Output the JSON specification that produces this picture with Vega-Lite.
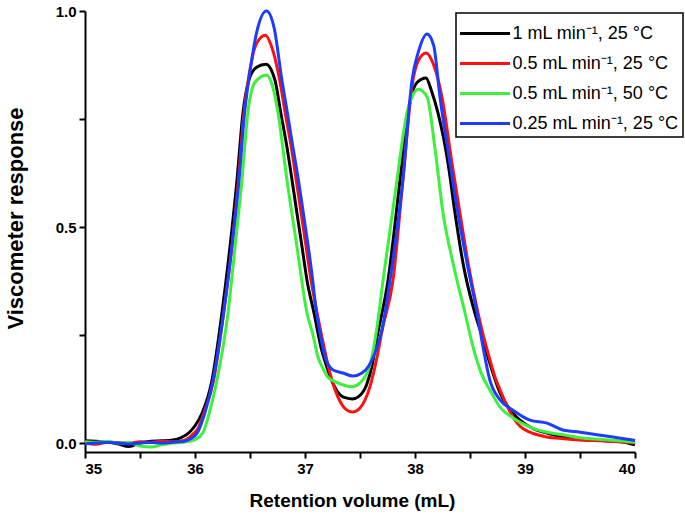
{
  "$schema": "https://vega.github.io/schema/vega-lite/v6.json",
  "width": 550,
  "height": 441,
  "autosize": {"type": "none"},
  "padding": {"left": 85, "top": 11, "right": 50, "bottom": 69},
  "background": "white",
  "config": {
    "view": {"stroke": null},
    "font": "Liberation Sans",
    "axis": {
      "grid": false,
      "domainColor": "black",
      "domainWidth": 2,
      "tickColor": "black",
      "tickWidth": 2,
      "tickSize": 6,
      "labelFont": "Liberation Sans",
      "labelFontSize": 15,
      "labelFontWeight": "bold",
      "labelColor": "black",
      "titleFont": "Liberation Sans",
      "titleFontWeight": "bold",
      "titleColor": "black"
    },
    "legend": {
      "labelFont": "Liberation Sans"
    }
  },
  "data": {
    "values": [
      {"s": "1 mL min⁻¹, 25 °C", "x": 35.0, "y": 0.005},
      {"s": "1 mL min⁻¹, 25 °C", "x": 35.1, "y": 0.004},
      {"s": "1 mL min⁻¹, 25 °C", "x": 35.2, "y": 0.003},
      {"s": "1 mL min⁻¹, 25 °C", "x": 35.3, "y": -0.002},
      {"s": "1 mL min⁻¹, 25 °C", "x": 35.4, "y": -0.008},
      {"s": "1 mL min⁻¹, 25 °C", "x": 35.5, "y": 0.0},
      {"s": "1 mL min⁻¹, 25 °C", "x": 35.6, "y": 0.004},
      {"s": "1 mL min⁻¹, 25 °C", "x": 35.7, "y": 0.005},
      {"s": "1 mL min⁻¹, 25 °C", "x": 35.8, "y": 0.007},
      {"s": "1 mL min⁻¹, 25 °C", "x": 35.87, "y": 0.012},
      {"s": "1 mL min⁻¹, 25 °C", "x": 35.95, "y": 0.025},
      {"s": "1 mL min⁻¹, 25 °C", "x": 36.0, "y": 0.04},
      {"s": "1 mL min⁻¹, 25 °C", "x": 36.064, "y": 0.069},
      {"s": "1 mL min⁻¹, 25 °C", "x": 36.155, "y": 0.146},
      {"s": "1 mL min⁻¹, 25 °C", "x": 36.245, "y": 0.301},
      {"s": "1 mL min⁻¹, 25 °C", "x": 36.318, "y": 0.454},
      {"s": "1 mL min⁻¹, 25 °C", "x": 36.382, "y": 0.609},
      {"s": "1 mL min⁻¹, 25 °C", "x": 36.436, "y": 0.764},
      {"s": "1 mL min⁻¹, 25 °C", "x": 36.49, "y": 0.84},
      {"s": "1 mL min⁻¹, 25 °C", "x": 36.56, "y": 0.87},
      {"s": "1 mL min⁻¹, 25 °C", "x": 36.645, "y": 0.877},
      {"s": "1 mL min⁻¹, 25 °C", "x": 36.727, "y": 0.84},
      {"s": "1 mL min⁻¹, 25 °C", "x": 36.78, "y": 0.764},
      {"s": "1 mL min⁻¹, 25 °C", "x": 36.836, "y": 0.685},
      {"s": "1 mL min⁻¹, 25 °C", "x": 36.882, "y": 0.609},
      {"s": "1 mL min⁻¹, 25 °C", "x": 36.927, "y": 0.532},
      {"s": "1 mL min⁻¹, 25 °C", "x": 36.973, "y": 0.454},
      {"s": "1 mL min⁻¹, 25 °C", "x": 37.018, "y": 0.377},
      {"s": "1 mL min⁻¹, 25 °C", "x": 37.082, "y": 0.301},
      {"s": "1 mL min⁻¹, 25 °C", "x": 37.145, "y": 0.222},
      {"s": "1 mL min⁻¹, 25 °C", "x": 37.2, "y": 0.175},
      {"s": "1 mL min⁻¹, 25 °C", "x": 37.27, "y": 0.13},
      {"s": "1 mL min⁻¹, 25 °C", "x": 37.35, "y": 0.106},
      {"s": "1 mL min⁻¹, 25 °C", "x": 37.43, "y": 0.102},
      {"s": "1 mL min⁻¹, 25 °C", "x": 37.49, "y": 0.108},
      {"s": "1 mL min⁻¹, 25 °C", "x": 37.56, "y": 0.135},
      {"s": "1 mL min⁻¹, 25 °C", "x": 37.61, "y": 0.18},
      {"s": "1 mL min⁻¹, 25 °C", "x": 37.65, "y": 0.238},
      {"s": "1 mL min⁻¹, 25 °C", "x": 37.755, "y": 0.377},
      {"s": "1 mL min⁻¹, 25 °C", "x": 37.864, "y": 0.609},
      {"s": "1 mL min⁻¹, 25 °C", "x": 37.936, "y": 0.764},
      {"s": "1 mL min⁻¹, 25 °C", "x": 38.02, "y": 0.835},
      {"s": "1 mL min⁻¹, 25 °C", "x": 38.1, "y": 0.845},
      {"s": "1 mL min⁻¹, 25 °C", "x": 38.15, "y": 0.815},
      {"s": "1 mL min⁻¹, 25 °C", "x": 38.209, "y": 0.764},
      {"s": "1 mL min⁻¹, 25 °C", "x": 38.3, "y": 0.648},
      {"s": "1 mL min⁻¹, 25 °C", "x": 38.364, "y": 0.532},
      {"s": "1 mL min⁻¹, 25 °C", "x": 38.436, "y": 0.417},
      {"s": "1 mL min⁻¹, 25 °C", "x": 38.545, "y": 0.3},
      {"s": "1 mL min⁻¹, 25 °C", "x": 38.6, "y": 0.255},
      {"s": "1 mL min⁻¹, 25 °C", "x": 38.68, "y": 0.185},
      {"s": "1 mL min⁻¹, 25 °C", "x": 38.773, "y": 0.116},
      {"s": "1 mL min⁻¹, 25 °C", "x": 38.891, "y": 0.069},
      {"s": "1 mL min⁻¹, 25 °C", "x": 39.045, "y": 0.037},
      {"s": "1 mL min⁻¹, 25 °C", "x": 39.2, "y": 0.023},
      {"s": "1 mL min⁻¹, 25 °C", "x": 39.345, "y": 0.014},
      {"s": "1 mL min⁻¹, 25 °C", "x": 39.5, "y": 0.01},
      {"s": "1 mL min⁻¹, 25 °C", "x": 39.655, "y": 0.007},
      {"s": "1 mL min⁻¹, 25 °C", "x": 39.8, "y": 0.004},
      {"s": "1 mL min⁻¹, 25 °C", "x": 39.9, "y": 0.002},
      {"s": "1 mL min⁻¹, 25 °C", "x": 40.0, "y": -0.004},

      {"s": "0.5 mL min⁻¹, 25 °C", "x": 35.0, "y": 0.0},
      {"s": "0.5 mL min⁻¹, 25 °C", "x": 35.1, "y": -0.003},
      {"s": "0.5 mL min⁻¹, 25 °C", "x": 35.2, "y": 0.002},
      {"s": "0.5 mL min⁻¹, 25 °C", "x": 35.3, "y": 0.001},
      {"s": "0.5 mL min⁻¹, 25 °C", "x": 35.4, "y": 0.0},
      {"s": "0.5 mL min⁻¹, 25 °C", "x": 35.5, "y": 0.003},
      {"s": "0.5 mL min⁻¹, 25 °C", "x": 35.6, "y": 0.002},
      {"s": "0.5 mL min⁻¹, 25 °C", "x": 35.7, "y": 0.004},
      {"s": "0.5 mL min⁻¹, 25 °C", "x": 35.8, "y": 0.003},
      {"s": "0.5 mL min⁻¹, 25 °C", "x": 35.9, "y": 0.006},
      {"s": "0.5 mL min⁻¹, 25 °C", "x": 35.97, "y": 0.018},
      {"s": "0.5 mL min⁻¹, 25 °C", "x": 36.03, "y": 0.035},
      {"s": "0.5 mL min⁻¹, 25 °C", "x": 36.08, "y": 0.069},
      {"s": "0.5 mL min⁻¹, 25 °C", "x": 36.17, "y": 0.146},
      {"s": "0.5 mL min⁻¹, 25 °C", "x": 36.26, "y": 0.301},
      {"s": "0.5 mL min⁻¹, 25 °C", "x": 36.335, "y": 0.454},
      {"s": "0.5 mL min⁻¹, 25 °C", "x": 36.395, "y": 0.609},
      {"s": "0.5 mL min⁻¹, 25 °C", "x": 36.445, "y": 0.764},
      {"s": "0.5 mL min⁻¹, 25 °C", "x": 36.49, "y": 0.85},
      {"s": "0.5 mL min⁻¹, 25 °C", "x": 36.56, "y": 0.925},
      {"s": "0.5 mL min⁻¹, 25 °C", "x": 36.64, "y": 0.944},
      {"s": "0.5 mL min⁻¹, 25 °C", "x": 36.7, "y": 0.915},
      {"s": "0.5 mL min⁻¹, 25 °C", "x": 36.77, "y": 0.84},
      {"s": "0.5 mL min⁻¹, 25 °C", "x": 36.82, "y": 0.764},
      {"s": "0.5 mL min⁻¹, 25 °C", "x": 36.875, "y": 0.685},
      {"s": "0.5 mL min⁻¹, 25 °C", "x": 36.92, "y": 0.609},
      {"s": "0.5 mL min⁻¹, 25 °C", "x": 36.965, "y": 0.532},
      {"s": "0.5 mL min⁻¹, 25 °C", "x": 37.01, "y": 0.454},
      {"s": "0.5 mL min⁻¹, 25 °C", "x": 37.055, "y": 0.377},
      {"s": "0.5 mL min⁻¹, 25 °C", "x": 37.11, "y": 0.301},
      {"s": "0.5 mL min⁻¹, 25 °C", "x": 37.15, "y": 0.25},
      {"s": "0.5 mL min⁻¹, 25 °C", "x": 37.227, "y": 0.162},
      {"s": "0.5 mL min⁻¹, 25 °C", "x": 37.3, "y": 0.106},
      {"s": "0.5 mL min⁻¹, 25 °C", "x": 37.382, "y": 0.076},
      {"s": "0.5 mL min⁻¹, 25 °C", "x": 37.436, "y": 0.072},
      {"s": "0.5 mL min⁻¹, 25 °C", "x": 37.5, "y": 0.081},
      {"s": "0.5 mL min⁻¹, 25 °C", "x": 37.59, "y": 0.13},
      {"s": "0.5 mL min⁻¹, 25 °C", "x": 37.655, "y": 0.199},
      {"s": "0.5 mL min⁻¹, 25 °C", "x": 37.7, "y": 0.26},
      {"s": "0.5 mL min⁻¹, 25 °C", "x": 37.8, "y": 0.377},
      {"s": "0.5 mL min⁻¹, 25 °C", "x": 37.89, "y": 0.609},
      {"s": "0.5 mL min⁻¹, 25 °C", "x": 37.975, "y": 0.83},
      {"s": "0.5 mL min⁻¹, 25 °C", "x": 38.03, "y": 0.885},
      {"s": "0.5 mL min⁻¹, 25 °C", "x": 38.1, "y": 0.903},
      {"s": "0.5 mL min⁻¹, 25 °C", "x": 38.17, "y": 0.875},
      {"s": "0.5 mL min⁻¹, 25 °C", "x": 38.245, "y": 0.801},
      {"s": "0.5 mL min⁻¹, 25 °C", "x": 38.336, "y": 0.648},
      {"s": "0.5 mL min⁻¹, 25 °C", "x": 38.409, "y": 0.532},
      {"s": "0.5 mL min⁻¹, 25 °C", "x": 38.482, "y": 0.417},
      {"s": "0.5 mL min⁻¹, 25 °C", "x": 38.573, "y": 0.301},
      {"s": "0.5 mL min⁻¹, 25 °C", "x": 38.62, "y": 0.25},
      {"s": "0.5 mL min⁻¹, 25 °C", "x": 38.682, "y": 0.192},
      {"s": "0.5 mL min⁻¹, 25 °C", "x": 38.727, "y": 0.153},
      {"s": "0.5 mL min⁻¹, 25 °C", "x": 38.773, "y": 0.123},
      {"s": "0.5 mL min⁻¹, 25 °C", "x": 38.891, "y": 0.06},
      {"s": "0.5 mL min⁻¹, 25 °C", "x": 38.95, "y": 0.04},
      {"s": "0.5 mL min⁻¹, 25 °C", "x": 39.045, "y": 0.025},
      {"s": "0.5 mL min⁻¹, 25 °C", "x": 39.2, "y": 0.014},
      {"s": "0.5 mL min⁻¹, 25 °C", "x": 39.35, "y": 0.01},
      {"s": "0.5 mL min⁻¹, 25 °C", "x": 39.5, "y": 0.007},
      {"s": "0.5 mL min⁻¹, 25 °C", "x": 39.7, "y": 0.005},
      {"s": "0.5 mL min⁻¹, 25 °C", "x": 39.85, "y": 0.003},
      {"s": "0.5 mL min⁻¹, 25 °C", "x": 40.0, "y": 0.0},

      {"s": "0.5 mL min⁻¹, 50 °C", "x": 35.0, "y": 0.003},
      {"s": "0.5 mL min⁻¹, 50 °C", "x": 35.1, "y": 0.002},
      {"s": "0.5 mL min⁻¹, 50 °C", "x": 35.2, "y": 0.004},
      {"s": "0.5 mL min⁻¹, 50 °C", "x": 35.3, "y": 0.0},
      {"s": "0.5 mL min⁻¹, 50 °C", "x": 35.4, "y": 0.001},
      {"s": "0.5 mL min⁻¹, 50 °C", "x": 35.5, "y": -0.007},
      {"s": "0.5 mL min⁻¹, 50 °C", "x": 35.6, "y": -0.009},
      {"s": "0.5 mL min⁻¹, 50 °C", "x": 35.7, "y": -0.004},
      {"s": "0.5 mL min⁻¹, 50 °C", "x": 35.8, "y": 0.0},
      {"s": "0.5 mL min⁻¹, 50 °C", "x": 35.9, "y": 0.002},
      {"s": "0.5 mL min⁻¹, 50 °C", "x": 36.0, "y": 0.008},
      {"s": "0.5 mL min⁻¹, 50 °C", "x": 36.07, "y": 0.023},
      {"s": "0.5 mL min⁻¹, 50 °C", "x": 36.13, "y": 0.07},
      {"s": "0.5 mL min⁻¹, 50 °C", "x": 36.2, "y": 0.146},
      {"s": "0.5 mL min⁻¹, 50 °C", "x": 36.3, "y": 0.301},
      {"s": "0.5 mL min⁻¹, 50 °C", "x": 36.364, "y": 0.454},
      {"s": "0.5 mL min⁻¹, 50 °C", "x": 36.427, "y": 0.609},
      {"s": "0.5 mL min⁻¹, 50 °C", "x": 36.48, "y": 0.764},
      {"s": "0.5 mL min⁻¹, 50 °C", "x": 36.545, "y": 0.835},
      {"s": "0.5 mL min⁻¹, 50 °C", "x": 36.65, "y": 0.852},
      {"s": "0.5 mL min⁻¹, 50 °C", "x": 36.7, "y": 0.83},
      {"s": "0.5 mL min⁻¹, 50 °C", "x": 36.755, "y": 0.764},
      {"s": "0.5 mL min⁻¹, 50 °C", "x": 36.836, "y": 0.609},
      {"s": "0.5 mL min⁻¹, 50 °C", "x": 36.927, "y": 0.454},
      {"s": "0.5 mL min⁻¹, 50 °C", "x": 37.018, "y": 0.301},
      {"s": "0.5 mL min⁻¹, 50 °C", "x": 37.073, "y": 0.25},
      {"s": "0.5 mL min⁻¹, 50 °C", "x": 37.118, "y": 0.199},
      {"s": "0.5 mL min⁻¹, 50 °C", "x": 37.164, "y": 0.172},
      {"s": "0.5 mL min⁻¹, 50 °C", "x": 37.2, "y": 0.155},
      {"s": "0.5 mL min⁻¹, 50 °C", "x": 37.273, "y": 0.142},
      {"s": "0.5 mL min⁻¹, 50 °C", "x": 37.382, "y": 0.132},
      {"s": "0.5 mL min⁻¹, 50 °C", "x": 37.427, "y": 0.13},
      {"s": "0.5 mL min⁻¹, 50 °C", "x": 37.5, "y": 0.139},
      {"s": "0.5 mL min⁻¹, 50 °C", "x": 37.55, "y": 0.155},
      {"s": "0.5 mL min⁻¹, 50 °C", "x": 37.59, "y": 0.18},
      {"s": "0.5 mL min⁻¹, 50 °C", "x": 37.65, "y": 0.26},
      {"s": "0.5 mL min⁻¹, 50 °C", "x": 37.71, "y": 0.377},
      {"s": "0.5 mL min⁻¹, 50 °C", "x": 37.836, "y": 0.609},
      {"s": "0.5 mL min⁻¹, 50 °C", "x": 37.927, "y": 0.764},
      {"s": "0.5 mL min⁻¹, 50 °C", "x": 37.98, "y": 0.805},
      {"s": "0.5 mL min⁻¹, 50 °C", "x": 38.03, "y": 0.819},
      {"s": "0.5 mL min⁻¹, 50 °C", "x": 38.11, "y": 0.801},
      {"s": "0.5 mL min⁻¹, 50 °C", "x": 38.18, "y": 0.685},
      {"s": "0.5 mL min⁻¹, 50 °C", "x": 38.255, "y": 0.532},
      {"s": "0.5 mL min⁻¹, 50 °C", "x": 38.345, "y": 0.417},
      {"s": "0.5 mL min⁻¹, 50 °C", "x": 38.455, "y": 0.301},
      {"s": "0.5 mL min⁻¹, 50 °C", "x": 38.53, "y": 0.22},
      {"s": "0.5 mL min⁻¹, 50 °C", "x": 38.6, "y": 0.163},
      {"s": "0.5 mL min⁻¹, 50 °C", "x": 38.68, "y": 0.123},
      {"s": "0.5 mL min⁻¹, 50 °C", "x": 38.773, "y": 0.083},
      {"s": "0.5 mL min⁻¹, 50 °C", "x": 38.891, "y": 0.058},
      {"s": "0.5 mL min⁻¹, 50 °C", "x": 39.045, "y": 0.037},
      {"s": "0.5 mL min⁻¹, 50 °C", "x": 39.2, "y": 0.025},
      {"s": "0.5 mL min⁻¹, 50 °C", "x": 39.345, "y": 0.019},
      {"s": "0.5 mL min⁻¹, 50 °C", "x": 39.5, "y": 0.012},
      {"s": "0.5 mL min⁻¹, 50 °C", "x": 39.7, "y": 0.008},
      {"s": "0.5 mL min⁻¹, 50 °C", "x": 39.85, "y": 0.005},
      {"s": "0.5 mL min⁻¹, 50 °C", "x": 40.0, "y": 0.002},

      {"s": "0.25 mL min⁻¹, 25 °C", "x": 35.0, "y": -0.002},
      {"s": "0.25 mL min⁻¹, 25 °C", "x": 35.1, "y": 0.0},
      {"s": "0.25 mL min⁻¹, 25 °C", "x": 35.2, "y": 0.001},
      {"s": "0.25 mL min⁻¹, 25 °C", "x": 35.3, "y": 0.0},
      {"s": "0.25 mL min⁻¹, 25 °C", "x": 35.4, "y": -0.002},
      {"s": "0.25 mL min⁻¹, 25 °C", "x": 35.5, "y": 0.0},
      {"s": "0.25 mL min⁻¹, 25 °C", "x": 35.6, "y": 0.001},
      {"s": "0.25 mL min⁻¹, 25 °C", "x": 35.7, "y": 0.0},
      {"s": "0.25 mL min⁻¹, 25 °C", "x": 35.8, "y": 0.002},
      {"s": "0.25 mL min⁻¹, 25 °C", "x": 35.9, "y": 0.004},
      {"s": "0.25 mL min⁻¹, 25 °C", "x": 35.96, "y": 0.01},
      {"s": "0.25 mL min⁻¹, 25 °C", "x": 36.02, "y": 0.023},
      {"s": "0.25 mL min⁻¹, 25 °C", "x": 36.09, "y": 0.07},
      {"s": "0.25 mL min⁻¹, 25 °C", "x": 36.164, "y": 0.146},
      {"s": "0.25 mL min⁻¹, 25 °C", "x": 36.26, "y": 0.301},
      {"s": "0.25 mL min⁻¹, 25 °C", "x": 36.335, "y": 0.454},
      {"s": "0.25 mL min⁻¹, 25 °C", "x": 36.4, "y": 0.609},
      {"s": "0.25 mL min⁻¹, 25 °C", "x": 36.45, "y": 0.764},
      {"s": "0.25 mL min⁻¹, 25 °C", "x": 36.5, "y": 0.86},
      {"s": "0.25 mL min⁻¹, 25 °C", "x": 36.56, "y": 0.95},
      {"s": "0.25 mL min⁻¹, 25 °C", "x": 36.65, "y": 1.0},
      {"s": "0.25 mL min⁻¹, 25 °C", "x": 36.72, "y": 0.96},
      {"s": "0.25 mL min⁻¹, 25 °C", "x": 36.79, "y": 0.84},
      {"s": "0.25 mL min⁻¹, 25 °C", "x": 36.84, "y": 0.764},
      {"s": "0.25 mL min⁻¹, 25 °C", "x": 36.89, "y": 0.685},
      {"s": "0.25 mL min⁻¹, 25 °C", "x": 36.94, "y": 0.609},
      {"s": "0.25 mL min⁻¹, 25 °C", "x": 36.985, "y": 0.532},
      {"s": "0.25 mL min⁻¹, 25 °C", "x": 37.03, "y": 0.454},
      {"s": "0.25 mL min⁻¹, 25 °C", "x": 37.07, "y": 0.377},
      {"s": "0.25 mL min⁻¹, 25 °C", "x": 37.1, "y": 0.31},
      {"s": "0.25 mL min⁻¹, 25 °C", "x": 37.14, "y": 0.25},
      {"s": "0.25 mL min⁻¹, 25 °C", "x": 37.182, "y": 0.199},
      {"s": "0.25 mL min⁻¹, 25 °C", "x": 37.255, "y": 0.169},
      {"s": "0.25 mL min⁻¹, 25 °C", "x": 37.345, "y": 0.162},
      {"s": "0.25 mL min⁻¹, 25 °C", "x": 37.436, "y": 0.155},
      {"s": "0.25 mL min⁻¹, 25 °C", "x": 37.518, "y": 0.162},
      {"s": "0.25 mL min⁻¹, 25 °C", "x": 37.573, "y": 0.176},
      {"s": "0.25 mL min⁻¹, 25 °C", "x": 37.655, "y": 0.222},
      {"s": "0.25 mL min⁻¹, 25 °C", "x": 37.7, "y": 0.262},
      {"s": "0.25 mL min⁻¹, 25 °C", "x": 37.773, "y": 0.377},
      {"s": "0.25 mL min⁻¹, 25 °C", "x": 37.89, "y": 0.609},
      {"s": "0.25 mL min⁻¹, 25 °C", "x": 37.973, "y": 0.84},
      {"s": "0.25 mL min⁻¹, 25 °C", "x": 38.03, "y": 0.905},
      {"s": "0.25 mL min⁻¹, 25 °C", "x": 38.11, "y": 0.947},
      {"s": "0.25 mL min⁻¹, 25 °C", "x": 38.17, "y": 0.92},
      {"s": "0.25 mL min⁻¹, 25 °C", "x": 38.227, "y": 0.801},
      {"s": "0.25 mL min⁻¹, 25 °C", "x": 38.318, "y": 0.648},
      {"s": "0.25 mL min⁻¹, 25 °C", "x": 38.39, "y": 0.532},
      {"s": "0.25 mL min⁻¹, 25 °C", "x": 38.473, "y": 0.417},
      {"s": "0.25 mL min⁻¹, 25 °C", "x": 38.564, "y": 0.301},
      {"s": "0.25 mL min⁻¹, 25 °C", "x": 38.62, "y": 0.22},
      {"s": "0.25 mL min⁻¹, 25 °C", "x": 38.68, "y": 0.146},
      {"s": "0.25 mL min⁻¹, 25 °C", "x": 38.773, "y": 0.1},
      {"s": "0.25 mL min⁻¹, 25 °C", "x": 38.891, "y": 0.076},
      {"s": "0.25 mL min⁻¹, 25 °C", "x": 39.045, "y": 0.053},
      {"s": "0.25 mL min⁻¹, 25 °C", "x": 39.2, "y": 0.046},
      {"s": "0.25 mL min⁻¹, 25 °C", "x": 39.345, "y": 0.03},
      {"s": "0.25 mL min⁻¹, 25 °C", "x": 39.5, "y": 0.025},
      {"s": "0.25 mL min⁻¹, 25 °C", "x": 39.655, "y": 0.019},
      {"s": "0.25 mL min⁻¹, 25 °C", "x": 39.8, "y": 0.014},
      {"s": "0.25 mL min⁻¹, 25 °C", "x": 39.9, "y": 0.01},
      {"s": "0.25 mL min⁻¹, 25 °C", "x": 40.0, "y": 0.006}
    ]
  },
  "mark": {"type": "line", "strokeWidth": 3, "interpolate": "monotone"},
  "encoding": {
    "x": {
      "field": "x",
      "type": "quantitative",
      "scale": {"domain": [35, 40], "nice": false, "zero": false},
      "axis": {
        "title": "Retention volume (mL)",
        "titleFontSize": 19,
        "titleX": 267,
        "values": [35, 35.5, 36, 36.5, 37, 37.5, 38, 38.5, 39, 39.5, 40],
        "labelExpr": "datum.value % 1 === 0 ? format(datum.value, 'd') : ''",
        "labelPadding": 3,
        "titlePadding": 15
      }
    },
    "y": {
      "field": "y",
      "type": "quantitative",
      "scale": {"domain": [-0.0208, 1.0], "nice": false, "zero": false},
      "axis": {
        "title": "Viscometer response",
        "titleFontSize": 22,
        "titleY": 207,
        "values": [0, 0.25, 0.5, 0.75, 1.0],
        "labelExpr": "(datum.value * 2) % 1 === 0 ? format(datum.value, '.1f') : ''",
        "labelPadding": 3,
        "titlePadding": 28
      }
    },
    "color": {
      "field": "s",
      "type": "nominal",
      "sort": ["1 mL min⁻¹, 25 °C", "0.5 mL min⁻¹, 25 °C", "0.5 mL min⁻¹, 50 °C", "0.25 mL min⁻¹, 25 °C"],
      "scale": {
        "domain": ["1 mL min⁻¹, 25 °C", "0.5 mL min⁻¹, 25 °C", "0.5 mL min⁻¹, 50 °C", "0.25 mL min⁻¹, 25 °C"],
        "range": ["#000000", "#ff1010", "#3cf03c", "#1e3cff"]
      },
      "legend": {
        "title": null,
        "orient": "none",
        "legendX": 371,
        "legendY": 2,
        "strokeColor": "black",
        "fillColor": "white",
        "padding": 4,
        "symbolType": "M-1.7,0H1.7",
        "symbolSize": 865,
        "symbolStrokeWidth": 3,
        "symbolOffset": 8.5,
        "labelFontSize": 18,
        "labelColor": "black",
        "labelLimit": 300,
        "rowPadding": 4,
        "labelOffset": 11,
        "encode": {"legend": {"update": {"strokeWidth": {"value": 1.5}}}}
      }
    }
  }
}
